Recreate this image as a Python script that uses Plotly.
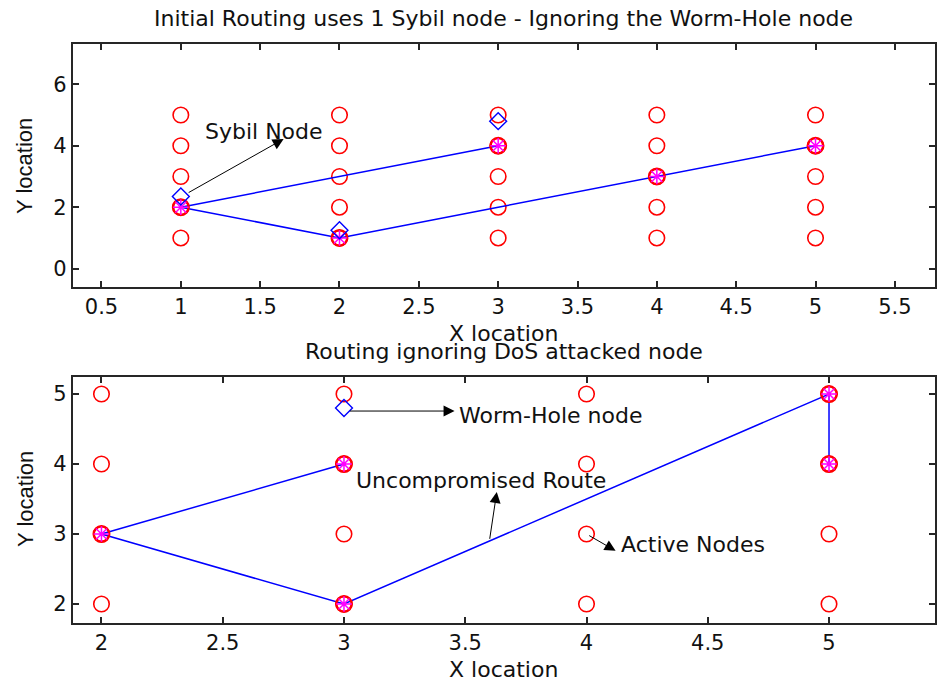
import plotly.graph_objects as go

# ---------------- data ----------------
top_grid_x = [1, 2, 3, 4, 5]
top_grid_y = [1, 2, 3, 4, 5]
top_route_a_x = [1, 2, 3]
top_route_a_y = [2, 3, 4]
top_route_b_x = [1, 2, 3, 4, 5]
top_route_b_y = [2, 1, 2, 3, 4]
top_active_x = [1, 2, 3, 4, 5]
top_active_y = [2, 1, 4, 3, 4]
top_diamond_x = [1, 2, 3]
top_diamond_y = [2.35, 1.25, 4.8]

bot_grid_x = [2, 3, 4, 5]
bot_grid_y = [2, 3, 4, 5]
bot_route_a_x = [2, 3]
bot_route_a_y = [3, 4]
bot_route_b_x = [2, 3, 5, 5]
bot_route_b_y = [3, 2, 5, 4]
bot_active_x = [2, 3, 3, 5, 5]
bot_active_y = [3, 4, 2, 5, 4]
bot_diamond_x = [3]
bot_diamond_y = [4.8]

top_xticks = [0.5, 1, 1.5, 2, 2.5, 3, 3.5, 4, 4.5, 5, 5.5]
top_yticks = [0, 2, 4, 6]
bot_xticks = [2, 2.5, 3, 3.5, 4, 4.5, 5]
bot_yticks = [2, 3, 4, 5]

title_top = "Initial Routing uses 1 Sybil node - Ignoring the Worm-Hole node"
title_bot = "Routing ignoring DoS attacked node"

FONT = "DejaVu Sans"
RED = "#ff0000"
BLUE = "#0000ff"
MAG = "#ff00ff"

fig = go.Figure()


def grid(xs, ys):
    gx, gy = [], []
    for x in xs:
        for y in ys:
            gx.append(x)
            gy.append(y)
    return gx, gy


def add_panel(xa, ya, gxs, gys, ra, rb, act, dia):
    gx, gy = grid(gxs, gys)
    fig.add_trace(go.Scatter(x=gx, y=gy, mode="markers", xaxis=xa, yaxis=ya,
                             marker=dict(symbol="circle-open", size=15.5, color=RED,
                                         line=dict(width=1.6, color=RED)),
                             showlegend=False, hoverinfo="skip"))
    for (rx, ry) in (ra, rb):
        fig.add_trace(go.Scatter(x=rx, y=ry, mode="lines", xaxis=xa, yaxis=ya,
                                 line=dict(color=BLUE, width=1.5),
                                 showlegend=False, hoverinfo="skip"))
    fig.add_trace(go.Scatter(x=act[0], y=act[1], mode="markers", xaxis=xa, yaxis=ya,
                             marker=dict(symbol="circle-open", size=15.5, color=RED,
                                         line=dict(width=2.5, color=RED)),
                             showlegend=False, hoverinfo="skip"))
    fig.add_trace(go.Scatter(x=act[0], y=act[1], mode="markers", xaxis=xa, yaxis=ya,
                             marker=dict(symbol="asterisk-open", size=13, color=MAG,
                                         line=dict(width=1.5, color=MAG)),
                             showlegend=False, hoverinfo="skip"))
    fig.add_trace(go.Scatter(x=dia[0], y=dia[1], mode="markers", xaxis=xa, yaxis=ya,
                             marker=dict(symbol="diamond-open", size=13, color=BLUE,
                                         line=dict(width=1.4, color=BLUE)),
                             showlegend=False, hoverinfo="skip"))


add_panel("x", "y", top_grid_x, top_grid_y,
          (top_route_a_x, top_route_a_y), (top_route_b_x, top_route_b_y),
          (top_active_x, top_active_y), (top_diamond_x, top_diamond_y))
add_panel("x2", "y2", bot_grid_x, bot_grid_y,
          (bot_route_a_x, bot_route_a_y), (bot_route_b_x, bot_route_b_y),
          (bot_active_x, bot_active_y), (bot_diamond_x, bot_diamond_y))

W, H = 937, 683
axis_common = dict(showgrid=False, zeroline=False, showline=True, mirror="ticks",
                   linecolor="#262626", linewidth=2, ticks="inside", ticklen=6,
                   tickwidth=1.5, tickcolor="#262626",
                   tickfont=dict(family=FONT, size=21, color="#111"))

fig.update_layout(
    width=W, height=H, margin=dict(l=0, r=0, t=0, b=0),
    paper_bgcolor="white", plot_bgcolor="white",
    xaxis=dict(axis_common, domain=[73 / W, 1.0], range=[0.3195, 5.753],
               tickvals=top_xticks, ticktext=[f"{v:g}" for v in top_xticks], anchor="y"),
    yaxis=dict(axis_common, domain=[1 - 287 / H, 1 - 44 / H], range=[-0.596, 7.31],
               tickvals=top_yticks, anchor="x"),
    xaxis2=dict(axis_common, domain=[73 / W, 1.0], range=[1.882, 5.437],
                tickvals=bot_xticks, ticktext=[f"{v:g}" for v in bot_xticks], anchor="y2"),
    yaxis2=dict(axis_common, domain=[1 - 622.7 / H, 1 - 377.3 / H], range=[1.733, 5.239],
                tickvals=bot_yticks, anchor="x2"),
)

TXT = dict(family=FONT, size=22, color="#111")
ann = []
# titles and axis labels
cx = (73 + 937) / 2 / W
ann.append(dict(text=title_top, x=cx, y=1 - 18.5 / H, xref="paper", yref="paper",
                showarrow=False, font=TXT, xanchor="center", yanchor="middle"))
ann.append(dict(text=title_bot, x=cx, y=1 - 351 / H, xref="paper", yref="paper",
                showarrow=False, font=TXT, xanchor="center", yanchor="middle"))
ann.append(dict(text="X location", x=cx, y=1 - 333 / H, xref="paper", yref="paper",
                showarrow=False, font=TXT, xanchor="center", yanchor="middle"))
ann.append(dict(text="X location", x=cx, y=1 - 669 / H, xref="paper", yref="paper",
                showarrow=False, font=TXT, xanchor="center", yanchor="middle"))
YL = dict(family="Liberation Sans", size=22, color="#111")
ann.append(dict(text="Y location", x=25 / W, y=1 - 166 / H, xref="paper", yref="paper",
                showarrow=False, font=YL, textangle=-90, xanchor="center", yanchor="middle"))
ann.append(dict(text="Y location", x=25 / W, y=1 - 499 / H, xref="paper", yref="paper",
                showarrow=False, font=YL, textangle=-90, xanchor="center", yanchor="middle"))

# text labels inside the plots
ann.append(dict(text="Sybil Node", x=1.138, y=4.46, xref="x", yref="y", showarrow=False,
                font=TXT, xanchor="left", yanchor="middle"))
ann.append(dict(text="Worm-Hole node", x=3.464, y=4.7, xref="x2", yref="y2", showarrow=False,
                font=TXT, xanchor="left", yanchor="middle"))
ann.append(dict(text="Uncompromised Route", x=3.04, y=3.77, xref="x2", yref="y2",
                showarrow=False, font=TXT, xanchor="left", yanchor="middle"))
ann.append(dict(text="Active Nodes", x=4.133, y=2.857, xref="x2", yref="y2",
                showarrow=False, font=TXT, xanchor="left", yanchor="middle"))

# arrows (head at x,y ; tail at ax,ay)
arrows = [
    ("x", "y", 1.648, 4.22, 1.04, 2.45),
    ("x2", "y2", 3.456, 4.757, 3.018, 4.757),
    ("x2", "y2", 3.63, 3.60, 3.60, 2.91),
    ("x2", "y2", 4.12, 2.76, 4.005, 2.99),
]
for xr, yr, hx, hy, tx, ty in arrows:
    ann.append(dict(text="", x=hx, y=hy, ax=tx, ay=ty, xref=xr, yref=yr,
                    axref=xr, ayref=yr, showarrow=True, arrowhead=2, arrowsize=2.2,
                    arrowwidth=1.0, arrowcolor="black"))

fig.update_layout(annotations=ann)
fig.write_html("out.html")
